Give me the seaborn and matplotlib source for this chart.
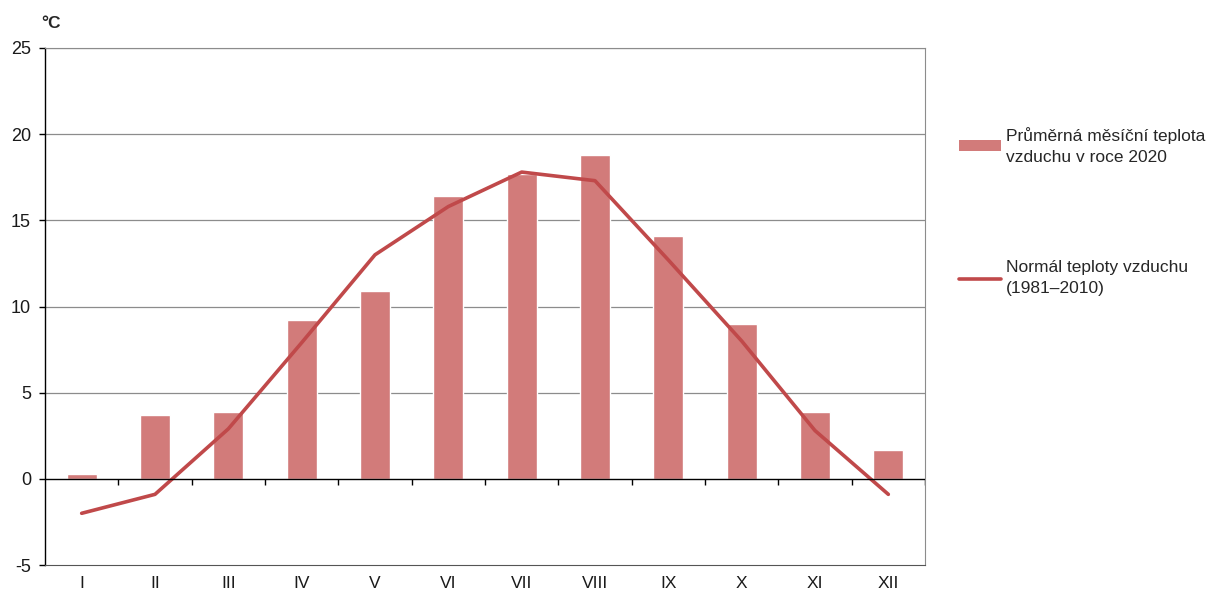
import numpy as np
import pandas as pd
import matplotlib
matplotlib.use("Agg")
import matplotlib.pyplot as plt
import seaborn as sns
from matplotlib.patches import Patch
from matplotlib.lines import Line2D

months = ["I", "II", "III", "IV", "V", "VI", "VII", "VIII", "IX", "X", "XI", "XII"]
temp_2020 = [0.3, 3.7, 3.9, 9.2, 10.9, 16.4, 17.7, 18.8, 14.1, 9.0, 3.9, 1.7]
normal = [-2.0, -0.9, 2.9, 7.9, 13.0, 15.8, 17.8, 17.3, 12.7, 8.0, 2.8, -0.9]
label_bar = "Průměrná měsíční teplota\nvzduchu v roce 2020"
label_line = "Normál teploty vzduchu\n(1981–2010)"

bar_color = "#D27B7A"
line_color = "#C0494A"

sns.set_style("white")
plt.rcParams["font.family"] = ["Liberation Sans", "DejaVu Sans"]
plt.rcParams["axes.unicode_minus"] = False

df = pd.DataFrame({"month": months, "temp": temp_2020, "normal": normal})

fig = plt.figure(figsize=(12.16, 5.91), dpi=100)
ax = fig.add_axes([45 / 1216, 1 - 565 / 591, 880 / 1216, 517 / 591])

# gridlines
for y in range(5, 30, 5):
    ax.axhline(y, color="#8c8c8c", lw=0.9, zorder=0)

sns.barplot(data=df, x="month", y="temp", color=bar_color, width=0.41,
            saturation=1, ax=ax, zorder=2)
sns.lineplot(x=np.arange(len(months)), y=df["normal"], color=line_color,
             lw=2.6, ax=ax, zorder=3)

# zero axis with category separators
ax.axhline(0, color="black", lw=1.0, zorder=4)
ax.vlines(np.arange(len(months)) + 0.5, -0.35, 0, color="black", lw=1.0, zorder=4)

ax.set_xlim(-0.5, 11.5)
ax.set_ylim(-5, 25)
ax.set_yticks(range(-5, 30, 5))
ax.set_xlabel("")
ax.set_ylabel("")
ax.tick_params(axis="y", length=4, width=1, color="black", labelsize=13,
               left=True, pad=6, labelcolor="#1a1a1a")
ax.tick_params(axis="x", length=0, labelsize=12.5, pad=8, labelcolor="#1a1a1a")

ax.spines["left"].set_color("black")
ax.spines["left"].set_linewidth(1.0)
ax.spines["right"].set_color("#8c8c8c")
ax.spines["top"].set_color("#8c8c8c")
ax.spines["bottom"].set_color("#555555")
for s in ax.spines.values():
    s.set_visible(True)

fig.text(41 / 1216, 1 - 23 / 591, "°C", fontsize=12.5, fontweight="bold",
         va="center", ha="left")

handles = [Patch(facecolor=bar_color, edgecolor="none"),
           Line2D([0], [0], color=line_color, lw=2.6)]
leg = fig.legend(handles, [label_bar, label_line], loc="upper left",
                 bbox_to_anchor=(952 / 1216, 1 - 120 / 591), frameon=False,
                 fontsize=12.5, labelspacing=5.5, handlelength=2.4,
                 handleheight=0.6, handletextpad=0.3, borderaxespad=0)
for t in leg.get_texts():
    t.set_linespacing(1.5)

fig.savefig("out.png", dpi=100)
